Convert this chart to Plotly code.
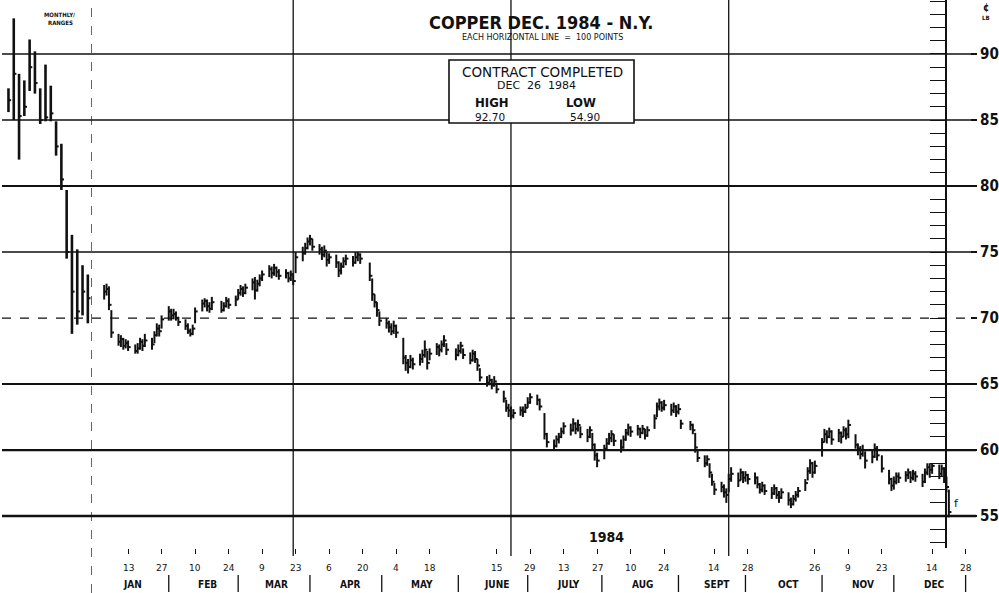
import pandas as pd
import plotly.graph_objects as go

# ---------------- data ----------------
# monthly ranges before the daily section (left strip)
MONTHS = ["Sep 82", "Oct 82", "Nov 82", "Dec 82", "Jan 83", "Feb 83", "Mar 83", "Apr 83",
          "May 83", "Jun 83", "Jul 83", "Aug 83", "Sep 83", "Oct 83", "Nov 83", "Dec 83"]
MONTH_HIGH = [87.4, 92.7, 88.5, 88.0, 91.1, 90.2, 87.4, 89.2, 87.6, 84.9, 83.2, 79.7, 76.3, 75.2, 74.0, 73.3]
MONTH_LOW = [85.6, 85.0, 82.0, 85.3, 87.2, 87.0, 84.7, 84.9, 84.9, 82.3, 79.7, 74.5, 68.8, 69.5, 70.2, 69.6]
MONTH_CLOSE = [86.5, 88.5, 85.3, 86.0, 89.0, 87.8, 85.0, 85.2, 85.5, 83.0, 80.5, 75.0, 72.0, 70.5, 72.0, 71.5]

# daily bars, 1984 trading days (Jan 3 .. Dec 21)
HOLIDAYS = ["1984-02-20", "1984-04-20", "1984-05-28", "1984-07-04", "1984-09-03", "1984-11-22"]
FIRST_DAY = "1984-01-03"
LAST_DAY = "1984-12-21"

DAILY_HIGH = [
    72.5, 72.6, 72.4, 70.6, 68.8, 68.7, 68.5, 68.4, 68.3, 68.0, 68.1, 68.5, 68.4, 68.8, 68.5, 69.0, 69.6, 69.5, 70.2, 70.9, 70.7,  # Jan
    70.7, 70.5, 70.1, 69.9, 69.6, 69.2, 69.5, 70.8, 71.4, 71.5, 71.4, 71.2, 71.6, 71.3, 71.2, 71.6, 71.5, 71.7, 72.2, 72.5,  # Feb
    72.4, 72.6, 73.0, 73.1, 72.9, 73.3, 73.6, 74.0, 73.9, 74.1, 73.9, 73.7, 73.7, 73.5, 73.6, 73.4, 75.0, 75.4, 75.7, 76.1, 76.3, 76.0,  # Mar
    75.6, 75.4, 75.5, 75.0, 74.9, 74.8, 74.3, 74.2, 74.6, 74.8, 74.7, 75.0, 75.0, 74.9, 74.2, 73.0, 71.8, 71.2, 70.5, 70.0,  # Apr
    69.8, 69.6, 69.8, 69.5, 68.5, 67.2, 66.9, 67.2, 67.0, 67.3, 67.6, 68.3, 67.5, 67.7, 68.1, 68.0, 68.3, 68.7, 68.1, 67.7, 68.0, 68.2,  # May
    67.7, 67.4, 67.6, 67.5, 66.9, 66.2, 65.6, 65.7, 65.4, 65.6, 65.1, 64.5, 63.8, 63.5, 63.3, 63.1, 63.3, 63.3, 63.5, 64.0, 64.3,  # Jun
    64.2, 63.9, 62.8, 61.3, 60.8, 61.1, 61.3, 61.7, 62.1, 62.0, 62.4, 62.1, 62.3, 61.8, 61.6, 61.8, 61.3, 60.5, 59.8, 60.4, 60.9,  # Jul
    61.3, 61.5, 61.2, 60.8, 61.1, 61.6, 62.0, 61.8, 61.9, 61.7, 61.9, 61.6, 61.8, 62.7, 63.6, 63.9, 63.7, 63.8, 63.5, 63.6, 63.4, 63.5, 62.3,  # Aug
    62.2, 62.0, 61.3, 60.0, 59.6, 59.6, 59.0, 58.2, 57.5, 57.6, 57.4, 57.1, 58.2, 58.7, 58.3, 58.6, 58.4, 58.4, 58.2,  # Sep
    58.3, 58.0, 57.5, 57.6, 57.4, 57.2, 57.4, 57.2, 56.9, 57.1, 56.8, 56.4, 56.6, 56.9, 57.2, 57.8, 58.7, 59.3, 59.1, 59.2, 60.9, 61.6, 61.5,  # Oct
    61.7, 61.5, 61.6, 61.4, 61.8, 61.7, 62.3, 61.2, 60.5, 60.3, 60.4, 59.9, 60.0, 60.5, 60.3, 59.6, 58.5, 57.9, 58.0, 58.3, 58.3,  # Nov
    58.4, 58.6, 58.4, 58.5, 58.4, 58.2, 58.6, 59.0, 59.0, 59.0, 58.9, 58.9, 58.7, 58.0, 57.0,  # Dec
]
DAILY_LOW = [
    71.4, 71.7, 70.6, 68.5, 67.9, 67.8, 67.6, 67.7, 67.5, 67.3, 67.3, 67.6, 67.5, 67.8, 67.6, 68.1, 68.6, 68.6, 69.2, 69.8, 69.8,  # Jan
    69.9, 69.8, 69.4, 69.1, 68.8, 68.6, 68.7, 69.6, 70.5, 70.8, 70.5, 70.4, 70.6, 70.4, 70.5, 70.8, 70.7, 70.9, 71.4, 71.7,  # Feb
    71.6, 71.8, 72.1, 71.4, 72.0, 72.4, 72.8, 73.1, 73.0, 73.2, 73.1, 72.9, 73.0, 72.7, 72.8, 72.5, 73.4, 74.3, 74.8, 75.2, 75.5, 75.1,  # Mar
    74.8, 74.4, 74.6, 73.9, 74.1, 73.8, 73.1, 73.3, 73.8, 74.0, 73.9, 74.1, 74.3, 74.1, 72.8, 71.3, 70.8, 70.1, 69.4, 69.2,  # Apr
    68.9, 68.7, 68.8, 68.5, 66.5, 66.0, 65.8, 66.2, 66.1, 66.4, 66.6, 67.0, 66.1, 66.8, 67.2, 67.1, 67.4, 67.8, 67.2, 66.8, 67.1, 67.3,  # May
    66.9, 66.5, 66.7, 66.6, 66.0, 65.2, 64.8, 64.9, 64.6, 64.8, 64.3, 63.6, 62.9, 62.5, 62.3, 62.4, 62.6, 62.5, 62.8, 63.2, 63.5,  # Jun
    63.4, 63.0, 60.8, 60.2, 60.0, 60.2, 60.5, 60.9, 61.2, 61.1, 61.4, 61.2, 61.4, 60.9, 60.6, 60.9, 60.0, 59.2, 58.7, 59.3, 60.0,  # Jul
    60.4, 60.6, 60.3, 59.8, 60.1, 60.7, 61.1, 61.0, 61.1, 60.9, 61.2, 60.8, 61.0, 61.6, 62.5, 63.0, 62.9, 63.0, 62.6, 62.8, 62.5, 62.7, 61.6,  # Aug
    61.5, 61.2, 59.8, 59.1, 58.7, 58.8, 57.9, 57.3, 56.6, 56.8, 56.4, 56.0, 56.8, 57.6, 57.2, 57.7, 57.5, 57.6, 57.4,  # Sep
    57.4, 57.1, 56.7, 56.8, 56.6, 56.3, 56.6, 56.3, 56.0, 56.3, 55.8, 55.6, 55.8, 56.1, 56.4, 56.9, 57.7, 58.2, 57.9, 58.2, 59.5, 60.6, 60.5,  # Oct
    60.9, 60.4, 60.6, 60.5, 61.0, 60.8, 60.9, 60.1, 59.6, 59.3, 59.5, 58.6, 59.0, 59.4, 59.2, 58.3, 57.4, 56.9, 57.0, 57.4, 57.5,  # Nov
    57.6, 57.8, 57.5, 57.7, 57.6, 57.2, 57.5, 58.1, 57.9, 58.2, 57.8, 58.0, 57.5, 56.8, 54.9,  # Dec
]
DAILY_CLOSE = [
    72.0, 72.2, 71.0, 68.9, 68.2, 68.4, 67.9, 68.1, 67.8, 67.5, 67.7, 68.2, 67.9, 68.3, 68.0, 68.7, 69.2, 69.0, 69.9, 70.5, 70.2,  # Jan
    70.3, 70.0, 69.7, 69.4, 69.0, 68.8, 69.2, 70.5, 71.1, 71.3, 70.9, 70.7, 71.2, 70.6, 70.9, 71.3, 71.0, 71.4, 71.9, 72.2,  # Feb
    71.9, 72.3, 72.7, 72.1, 72.6, 73.0, 73.3, 73.7, 73.4, 73.8, 73.5, 73.2, 73.4, 73.0, 73.3, 72.8, 74.6, 74.9, 75.3, 75.8, 76.0, 75.4,  # Mar
    75.2, 74.8, 75.1, 74.4, 74.6, 74.2, 73.6, 73.9, 74.3, 74.5, 74.2, 74.6, 74.8, 74.5, 73.2, 71.8, 71.2, 70.6, 69.8, 69.6,  # Apr
    69.3, 69.0, 69.4, 68.9, 67.0, 66.6, 66.3, 66.8, 66.5, 66.9, 67.2, 67.6, 66.6, 67.3, 67.8, 67.6, 68.0, 68.3, 67.6, 67.2, 67.5, 67.9,  # May
    67.2, 66.8, 67.3, 66.9, 66.4, 65.5, 65.1, 65.3, 64.9, 65.2, 64.6, 63.9, 63.2, 63.0, 62.6, 62.8, 63.0, 62.9, 63.2, 63.6, 64.0,  # Jun
    63.8, 63.3, 61.2, 60.6, 60.3, 60.8, 61.0, 61.4, 61.8, 61.5, 62.0, 61.6, 61.9, 61.2, 61.0, 61.5, 60.4, 59.6, 59.2, 60.1, 60.5,  # Jul
    60.9, 61.2, 60.7, 60.2, 60.8, 61.3, 61.7, 61.4, 61.6, 61.3, 61.6, 61.1, 61.5, 62.4, 63.3, 63.6, 63.2, 63.4, 63.0, 63.3, 62.9, 63.1, 62.0,  # Aug
    61.9, 61.5, 60.2, 59.4, 59.0, 59.3, 58.3, 57.6, 57.0, 57.2, 56.8, 56.6, 57.8, 58.2, 57.7, 58.3, 57.9, 58.1, 57.8,  # Sep
    57.9, 57.4, 57.0, 57.3, 56.9, 56.7, 57.1, 56.6, 56.4, 56.8, 56.2, 55.9, 56.3, 56.6, 56.9, 57.5, 58.4, 59.0, 58.3, 58.8, 60.6, 61.2, 61.0,  # Oct
    61.4, 60.8, 61.3, 61.0, 61.5, 61.2, 61.9, 60.4, 60.1, 59.7, 60.0, 59.2, 59.5, 60.1, 59.6, 58.6, 57.8, 57.3, 57.6, 58.0, 57.9,  # Nov
    58.1, 58.3, 57.9, 58.2, 58.0, 57.6, 58.3, 58.7, 58.5, 58.8, 58.2, 58.6, 57.9, 57.2, 55.3,  # Dec
]

# price scale (cents / lb) and its labelled levels
PRICE_LEVELS = [55, 60, 65, 70, 75, 80, 85, 90]
PRICE_LABELS = ["55", "60", "65", "70", "75", "80", "85", "90"]

# date axis labels (under the chart)
DAY_LABEL_DATES = ["1984-01-13", "1984-01-27", "1984-02-10", "1984-02-24", "1984-03-09", "1984-03-23",
                   "1984-04-06", "1984-04-20", "1984-05-04", "1984-05-18", "1984-06-15", "1984-06-29",
                   "1984-07-13", "1984-07-27", "1984-08-10", "1984-08-24", "1984-09-14", "1984-09-28",
                   "1984-10-26", "1984-11-09", "1984-11-23", "1984-12-14", "1984-12-28"]
DAY_LABELS = ["13", "27", "10", "24", "9", "23", "6", "20", "4", "18", "15", "29",
              "13", "27", "10", "24", "14", "28", "26", "9", "23", "14", "28"]
MONTH_LABEL_DATES = ["1984-01-15", "1984-02-15", "1984-03-15", "1984-04-15", "1984-05-15", "1984-06-15",
                     "1984-07-15", "1984-08-15", "1984-09-15", "1984-10-15", "1984-11-15", "1984-12-15"]
MONTH_LABELS = ["JAN", "FEB", "MAR", "APR", "MAY", "JUNE", "JULY", "AUG", "SEPT", "OCT", "NOV", "DEC"]
MONTH_SEP_DATES = ["1984-01-30", "1984-02-28", "1984-03-29", "1984-04-28", "1984-05-30", "1984-06-28",
                   "1984-07-29", "1984-08-30", "1984-09-27", "1984-10-29", "1984-11-28", "1984-12-28"]
QUARTER_LINE_DATES = ["1984-03-22", "1984-06-21", "1984-09-20"]
LAST_QUARTER_LINE = "1984-12-20"

CONTRACT_HIGH = "92.70"
CONTRACT_LOW = "54.90"

# ---------------- layout geometry ----------------
W, H = 999, 593
ML, MR, MT, MB = 0, 29, 0, 45
PW, PH = W - ML - MR, H - MT - MB
X_START = pd.Timestamp("1983-12-28 12:00")
X_END = pd.Timestamp("1984-12-29 20:00")
DAILY_DOMAIN_START = 91 / PW
Y_RANGE = [52.58, 94.09]


def px(x):
    return x / PW


def py(y):
    return 1 - y / PH


BLACK = "#111111"
NARROW = "Liberation Sans Narrow, DejaVu Sans Condensed, Arial Narrow, Liberation Sans, sans-serif"
PLAIN = "DejaVu Sans, Liberation Sans, sans-serif"

# ---------------- traces ----------------
dates = pd.bdate_range(FIRST_DAY, LAST_DAY, freq="C", holidays=HOLIDAYS)
n = min(len(dates), len(DAILY_CLOSE), len(DAILY_HIGH), len(DAILY_LOW))
dates = dates[:n]

bar_x, bar_y, tick_x, tick_y = [], [], [], []
tick_len = pd.Timedelta(hours=26)
for d, hi, lo, cl in zip(dates, DAILY_HIGH, DAILY_LOW, DAILY_CLOSE):
    bar_x += [d, d, None]
    bar_y += [lo, hi, None]
    tick_x += [d, d + tick_len, None]
    tick_y += [cl, cl, None]

m_bar_x, m_bar_y, m_tick_x, m_tick_y = [], [], [], []
for i, (hi, lo, cl) in enumerate(zip(MONTH_HIGH, MONTH_LOW, MONTH_CLOSE)):
    m_bar_x += [i, i, None]
    m_bar_y += [lo, hi, None]
    m_tick_x += [i, i + 0.5, None]
    m_tick_y += [cl, cl, None]

fig = go.Figure()
fig.add_trace(go.Scatter(x=bar_x, y=bar_y, mode="lines", line=dict(color=BLACK, width=2.0),
                         hoverinfo="skip", showlegend=False))
fig.add_trace(go.Scatter(x=tick_x, y=tick_y, mode="lines", line=dict(color=BLACK, width=2.0),
                         hoverinfo="skip", showlegend=False))
fig.add_trace(go.Scatter(x=m_bar_x, y=m_bar_y, mode="lines", line=dict(color=BLACK, width=2.6),
                         xaxis="x2", yaxis="y", hoverinfo="skip", showlegend=False))
fig.add_trace(go.Scatter(x=m_tick_x, y=m_tick_y, mode="lines", line=dict(color=BLACK, width=2.0),
                         xaxis="x2", yaxis="y", hoverinfo="skip", showlegend=False))
# carrier for the 1-cent tick ruler
fig.add_trace(go.Scatter(x=[dates[0]], y=[PRICE_LEVELS[0]], yaxis="y2", mode="markers",
                         marker=dict(opacity=0), hoverinfo="skip", showlegend=False))

# ---------------- shapes ----------------
shapes = []
GRID_WIDTH = {55: 2.6, 60: 2.2, 65: 2.0, 70: 1.2, 75: 1.4, 80: 2.2, 85: 1.4, 90: 1.4}
GRID_DASH = {55: "solid", 60: "solid", 65: "solid", 70: "dash", 75: "solid", 80: "solid", 85: "solid", 90: "solid"}
for lvl in PRICE_LEVELS:
    shapes.append(dict(type="line", xref="paper", yref="y", x0=px(2), x1=px(976), y0=lvl, y1=lvl,
                       line=dict(color=BLACK, width=GRID_WIDTH[lvl], dash=GRID_DASH[lvl]), layer="below"))

# left boundary of the daily section (dashed)
shapes.append(dict(type="line", xref="x", yref="paper", x0=X_START, x1=X_START, y0=py(593), y1=py(2),
                   line=dict(color=BLACK, width=1.3, dash="dash"), layer="below"))
for qd in QUARTER_LINE_DATES:
    shapes.append(dict(type="line", xref="x", yref="paper", x0=qd, x1=qd, y0=py(556), y1=1,
                       line=dict(color=BLACK, width=1.3), layer="below"))
# month separators in the label strip
for sd in MONTH_SEP_DATES:
    shapes.append(dict(type="line", xref="x", yref="paper", x0=sd, x1=sd, y0=py(592), y1=py(575),
                       line=dict(color=BLACK, width=1.3)))
# contract box
shapes.append(dict(type="rect", xref="paper", yref="paper", x0=px(449), x1=px(634), y0=py(123), y1=py(60),
                   line=dict(color=BLACK, width=1.6), fillcolor="white", layer="above"))

# ---------------- annotations ----------------
ann = []


def text(x, y, s, size, font=PLAIN, xanchor="center", xref="paper"):
    ann.append(dict(x=x, y=y, xref=xref, yref="paper", text=s, showarrow=False, xanchor=xanchor,
                    yanchor="middle", font=dict(family=font, size=size, color=BLACK)))


text(px(541), py(22), "<b>COPPER DEC. 1984 - N.Y.</b>", 18, NARROW)
text(px(542), py(37), "EACH HORIZONTAL LINE  =  100 POINTS", 8, PLAIN)
text(px(542), py(72), "CONTRACT COMPLETED", 13.5, PLAIN)
text(px(536), py(86), "DEC  26  1984", 11, PLAIN)
text(px(492), py(102), "<b>HIGH</b>", 13, NARROW)
text(px(581), py(102), "<b>LOW</b>", 13, NARROW)
text(px(490), py(117), CONTRACT_HIGH, 10.5, PLAIN)
text(px(585), py(117), CONTRACT_LOW, 10.5, PLAIN)
text(px(59), py(15), "<b>MONTHLY/</b>", 6, NARROW)
text(px(60), py(22), "<b>RANGES</b>", 6, NARROW)
text(px(986), py(8), "<b>¢</b>", 10, NARROW)
text(px(986), py(17), "<b>LB</b>", 6, NARROW)
text(px(606), py(537), "<b>1984</b>", 14, NARROW)
text(px(956), py(503), "f", 11, PLAIN)

for d, s in zip(DAY_LABEL_DATES, DAY_LABELS):
    text(d, py(568), s, 9, PLAIN, xref="x")
for d, s in zip(MONTH_LABEL_DATES, MONTH_LABELS):
    text(d, py(585), "<b>" + s + "</b>", 10, NARROW, xref="x")

# position of the 1-cent tick ruler (on the last quarter line)
frac = (pd.Timestamp(LAST_QUARTER_LINE) - X_START) / (X_END - X_START)
ruler_pos = DAILY_DOMAIN_START + frac * (1 - DAILY_DOMAIN_START)

fig.update_layout(
    width=W, height=H,
    margin=dict(l=ML, r=MR, t=MT, b=MB, pad=0),
    paper_bgcolor="white", plot_bgcolor="white",
    showlegend=False,
    shapes=shapes,
    annotations=ann,
    xaxis=dict(type="date", domain=[DAILY_DOMAIN_START, 1], range=[X_START, X_END],
               showgrid=False, zeroline=False, showline=False,
               tickvals=DAY_LABEL_DATES, ticks="outside", ticklen=5, tickwidth=1, tickcolor=BLACK,
               showticklabels=False, fixedrange=True),
    xaxis2=dict(domain=[0, DAILY_DOMAIN_START], range=[-1.6, len(MONTHS) - 0.4], anchor="y",
                visible=False, fixedrange=True),
    yaxis=dict(range=Y_RANGE, side="right", tickvals=PRICE_LEVELS, ticktext=PRICE_LABELS,
               ticks="outside", ticklen=6, tickwidth=2, tickcolor=BLACK,
               tickfont=dict(family=NARROW, size=15, color=BLACK, weight="bold"),
               showgrid=False, zeroline=False, showline=False, fixedrange=True, automargin=False),
    yaxis2=dict(range=Y_RANGE, overlaying="y", anchor="free", position=ruler_pos, side="left",
                dtick=1, tick0=0, ticks="outside", ticklen=16, tickwidth=1.2, tickcolor=BLACK,
                showticklabels=False, showline=True, linecolor=BLACK, linewidth=1.5,
                showgrid=False, zeroline=False, fixedrange=True),
)

fig.write_html(
    "out.html",
    config={"displayModeBar": False},
    post_script="document.body.style.margin='0px';document.body.style.padding='0px';"
                "document.body.style.overflow='hidden';",
)
